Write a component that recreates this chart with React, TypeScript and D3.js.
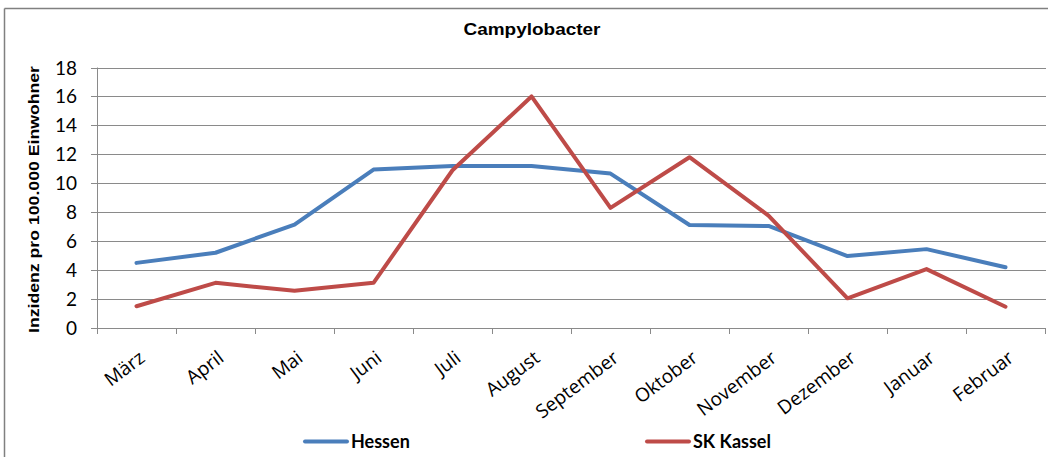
import React from "react";
import * as d3 from "d3";

const categories = ["März", "April", "Mai", "Juni", "Juli", "August", "September", "Oktober", "November", "Dezember", "Januar", "Februar"];
const hessen = [4.5, 5.2, 7.15, 10.95, 11.2, 11.2, 10.67, 7.12, 7.05, 4.97, 5.45, 4.2];
const kassel = [1.5, 3.12, 2.57, 3.12, 10.9, 16.0, 8.3, 11.8, 7.77, 2.05, 4.07, 1.47];
const yTicks = [0, 2, 4, 6, 8, 10, 12, 14, 16, 18];
const seriesNames = ["Hessen", "SK Kassel"];
const colors = ["#4a7ebb", "#be4b48"];

const W = 1051, H = 457;
const left = 97, right = 1045, top = 67.5, bottom = 328;

export default function App() {
  const x = d3.scaleBand<string>().domain(categories).range([left, right]);
  const y = d3.scaleLinear().domain([0, 18]).range([bottom, top]);
  const line = d3.line<number>().x((_, i) => (x(categories[i]) as number) + x.bandwidth() / 2).y((d) => y(d));
  const series = [hessen, kassel];
  const calibri = "Lato, 'Open Sans', sans-serif";
  return (
    <svg width={W} height={H} style={{ position: "absolute", left: 0, top: 0, background: "#fff" }}>
      <rect x={0} y={0} width={W} height={H} fill="#fff" />
      <line x1={4.5} y1={8.5} x2={1048} y2={8.5} stroke="#808080" strokeWidth={1.5} />
      <line x1={4.5} y1={8.5} x2={4.5} y2={H} stroke="#808080" strokeWidth={1.5} />
      <text x={532} y={35} textAnchor="middle" fontFamily="'Liberation Sans', Arial, sans-serif" fontWeight="bold" fontSize={17} textLength={137} lengthAdjust="spacingAndGlyphs">Campylobacter</text>
      {yTicks.map((t) => (
        <g key={t}>
          <line x1={left - 6} x2={right + 1} y1={Math.round(y(t)) + 0.5} y2={Math.round(y(t)) + 0.5} stroke="#8a8a8a" strokeWidth={1} />
          <text x={left - 20} y={y(t) + 7} textAnchor="end" fontFamily={calibri} fontSize={19} fill="#000">{t}</text>
        </g>
      ))}
      <line x1={left + 0.5} x2={left + 0.5} y1={top} y2={bottom + 6} stroke="#8a8a8a" />
      {categories.map((c, i) => (
        <line key={"t" + i} x1={(x(c) as number) + x.bandwidth() + 0.5} x2={(x(c) as number) + x.bandwidth() + 0.5} y1={bottom} y2={bottom + 6} stroke="#8a8a8a" />
      ))}
      {categories.map((c) => {
        const cx = (x(c) as number) + x.bandwidth() / 2 + 1;
        const cy = 349;
        return (
          <text key={c} x={cx} y={cy} textAnchor="end" fontFamily="'Open Sans', sans-serif" fontSize={19} transform={`rotate(-37 ${cx} ${cy})`} dy="0.75em">{c}</text>
        );
      })}
      <text transform={`translate(34 ${(66 + 333) / 2}) rotate(-90)`} y={5} textAnchor="middle" fontFamily="'Liberation Sans', Arial, sans-serif" fontWeight="bold" fontSize={15} textLength={267} lengthAdjust="spacingAndGlyphs">Inzidenz pro 100.000 Einwohner</text>
      {series.map((s, k) => (
        <path key={k} d={line(s) as string} fill="none" stroke={colors[k]} strokeWidth={4} strokeLinejoin="round" strokeLinecap="round" />
      ))}
      {seriesNames.map((n, k) => {
        const lx = [305, 647][k];
        return (
          <g key={n}>
            <line x1={lx} x2={lx + 42} y1={441.5} y2={441.5} stroke={colors[k]} strokeWidth={4} strokeLinecap="round" />
            <text x={lx + 46} y={448} fontFamily={calibri} fontWeight="bold" fontSize={18}>{n}</text>
          </g>
        );
      })}
    </svg>
  );
}
